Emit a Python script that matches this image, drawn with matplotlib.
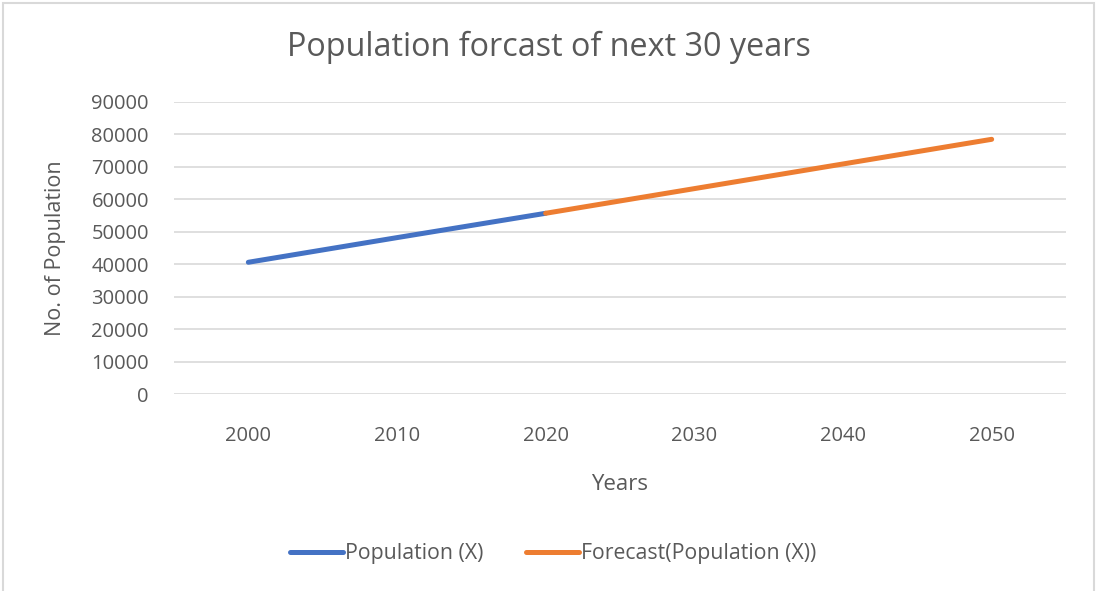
import matplotlib.pyplot as plt
from matplotlib.patches import Rectangle

plt.rcParams['font.family'] = ['Open Sans', 'DejaVu Sans']

# data
years = [2000, 2010, 2020]
population = [40600, 48200, 55700]
forecast_years = [2020, 2030, 2040, 2050]
forecast = [55700, 63300, 70900, 78500]
xticks = [2000, 2010, 2020, 2030, 2040, 2050]
yticks = list(range(0, 90001, 10000))

text_col = '#595959'
grid_col = '#d9d9d9'

fig = plt.figure(figsize=(10.99, 5.91), dpi=100)
ax = fig.add_axes([174 / 1099, 1 - 394 / 591, 892 / 1099, 292 / 591])

ax.plot(years, population, color='#4472C4', lw=3.6, solid_capstyle='round',
        label='Population (X)', zorder=3)
ax.plot(forecast_years, forecast, color='#ED7D31', lw=3.6, solid_capstyle='round',
        label='Forecast(Population (X))', zorder=3)

ax.set_xlim(1995, 2055)
ax.set_ylim(0, 90000)
ax.set_xticks(xticks)
ax.set_yticks(yticks)
ax.grid(axis='y', color=grid_col, lw=1.2)
ax.set_axisbelow(True)
for s in ax.spines.values():
    s.set_visible(False)
ax.tick_params(length=0, labelsize=14.5, labelcolor=text_col)
ax.tick_params(axis='x', pad=23)
ax.tick_params(axis='y', pad=18)

ax.set_xlabel('Years', fontsize=16, color=text_col)
ax.set_ylabel('No. of Population', fontsize=15.5, color=text_col)
ax.xaxis.set_label_coords(0.5, (394 - 484) / 292)
ax.yaxis.set_label_coords((55 - 174) / 892, 0.5)
ax.xaxis.label.set_va('center')
ax.yaxis.label.set_va('center')

fig.text(549 / 1099, 1 - 47 / 591, 'Population forcast of next 30 years',
         ha='center', va='center', fontsize=23.3, color=text_col)

fig.legend(loc='center', bbox_to_anchor=(553 / 1099, 1 - 554 / 591), ncol=2,
           frameon=False, fontsize=15.3, labelcolor=text_col,
           handlelength=2.5, handletextpad=0.1, columnspacing=2.0)

# chart border
fig.patches.append(Rectangle((3 / 1099, -0.05), 1091 / 1099, 1.05 - 3 / 591,
                             transform=fig.transFigure, fill=False,
                             edgecolor=grid_col, lw=1.5))

fig.savefig('out.png', dpi=100)
